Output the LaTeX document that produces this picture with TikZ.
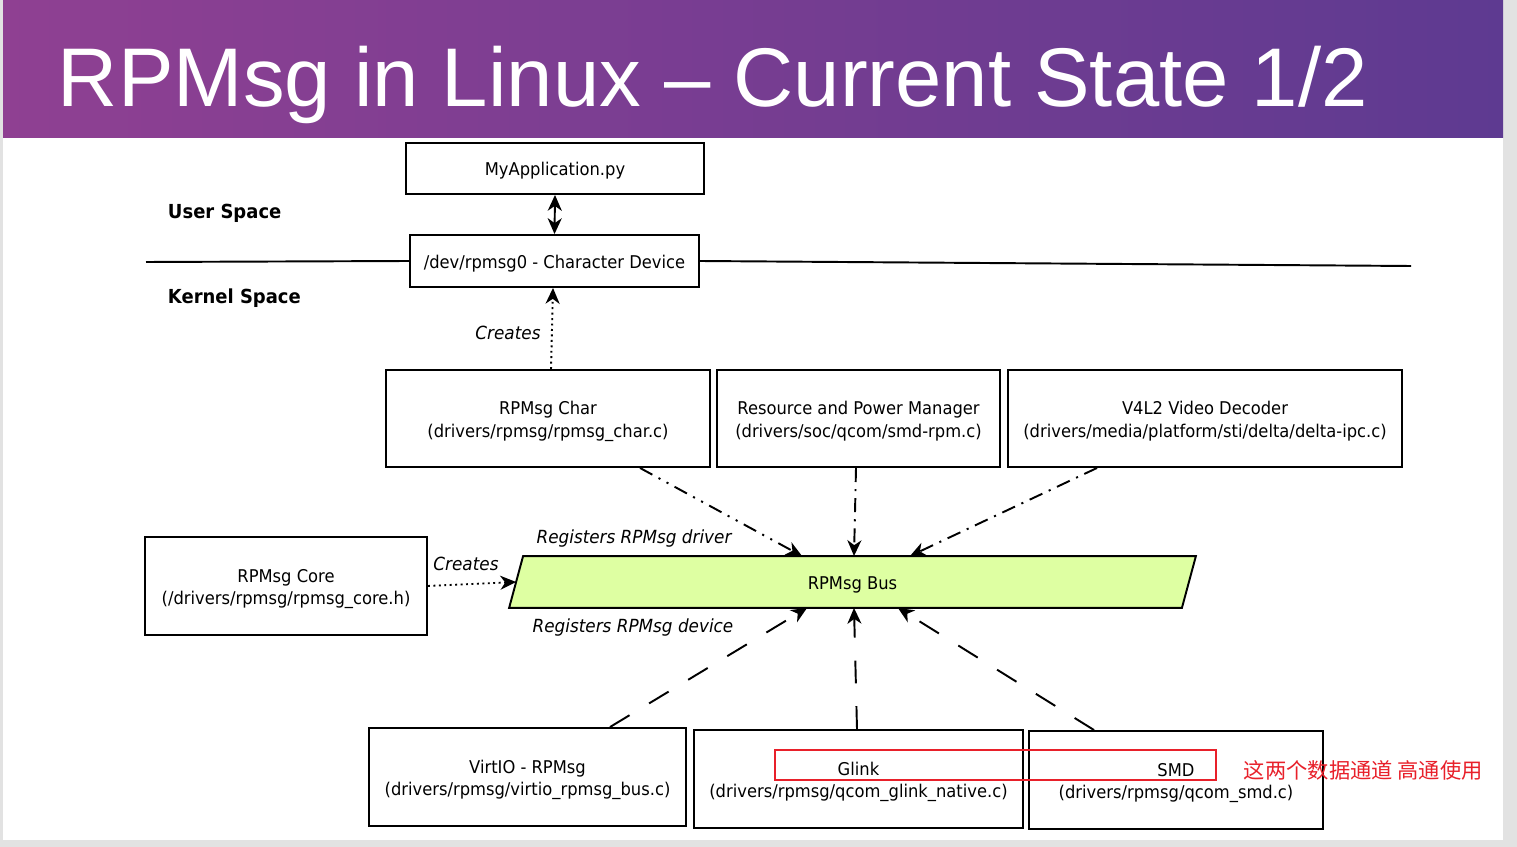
\documentclass[tikz,border=0pt]{standalone}
\usepackage{fontspec}
\setmainfont{DejaVu Sans}[FakeStretch=0.93]
\newfontfamily\titlefont{Liberation Sans}
\newfontfamily\cjk{Noto Sans CJK SC}
\usetikzlibrary{arrows.meta}

\definecolor{titleleft}{HTML}{8F4092}
\definecolor{titleright}{HTML}{5E3A91}
\definecolor{busfill}{HTML}{DEFFA2}
\definecolor{notered}{HTML}{E8202A}
\definecolor{pageshadow}{HTML}{E2E2E2}

\tikzset{
  box/.style={draw, line width=1.1pt, align=center, inner sep=0pt,
    font=\fontsize{10}{13}\selectfont},
  oneline/.style={execute at begin node={\rule{0pt}{10.6pt}}},
  twoline/.style={text height=21.6pt, text depth=0pt},
  tip/.style={-{Stealth[length=9pt,width=8pt,inset=2.8pt]}},
  bothtips/.style={{Stealth[length=9pt,width=8pt,inset=2.8pt]}-{Stealth[length=9pt,width=8pt,inset=2.8pt]}},
  lbl/.style={font=\fontsize{10.3}{12}\selectfont\itshape, inner sep=0pt},
  spacelbl/.style={anchor=west, inner sep=0pt, font=\fontsize{11}{13}\selectfont\bfseries},
  dashdot/.style={dash pattern=on 8pt off 4pt on 1.2pt off 4pt},
  dashdotdot/.style={dash pattern=on 8pt off 4pt on 1.2pt off 4pt on 1.2pt off 4pt},
  longdash/.style={dash pattern=on 13pt off 13pt},
}

\begin{document}
\begin{tikzpicture}[x=0.02cm, y=-0.02cm, line width=1.1pt]
  \useasboundingbox (0,0) rectangle (1517,847);
  % Slide and title bar
  \fill[pageshadow] (0,0) rectangle (1517,847);
  \fill[white] (3,0) rectangle (1503,840);
  \shade[left color=titleleft, right color=titleright] (3,0) rectangle (1503,138);
  \node[anchor=base west, inner sep=0pt, text=white, font=\titlefont\fontsize{47.4}{50}\selectfont]
    (title) at (57,107) {RPMsg in Linux – Current State 1/2};

  % Nodes
  \node[box, oneline, minimum width=5.96cm, minimum height=1.02cm] (app) at (555,168.5) {MyApplication.py};
  \node[box, oneline, minimum width=5.78cm, minimum height=1.04cm] (chardev) at (554.5,261) {/dev/rpmsg0 - Character Device};

  \node[box, twoline, minimum width=6.48cm, minimum height=1.94cm] (rpchar) at (548,418.5)
    {RPMsg Char\\(drivers/rpmsg/rpmsg\_char.c)};
  \node[box, twoline, minimum width=5.66cm, minimum height=1.94cm] (rpm) at (858.5,418.5)
    {Resource and Power Manager\\(drivers/soc/qcom/smd-rpm.c)};
  \node[box, twoline, minimum width=7.88cm, minimum height=1.94cm] (v4l2) at (1205,418.5)
    {V4L2 Video Decoder\\(drivers/media/platform/sti/delta/delta-ipc.c)};

  \node[box, twoline, minimum width=5.64cm, minimum height=1.96cm] (core) at (286,586)
    {RPMsg Core\\(/drivers/rpmsg/rpmsg\_core.h)};

  % bus: parallelogram round an empty frame node
  \node[inner sep=0pt, minimum width=13.42cm, minimum height=1cm] (bus) at (852.5,582) {};
  \draw[fill=busfill] ([xshift=0.14cm]bus.north west) -- ([xshift=0.14cm]bus.north east)
    -- ([xshift=-0.14cm]bus.south east) -- ([xshift=-0.14cm]bus.south west) -- cycle;
  \node[font=\fontsize{10}{13}\selectfont] (buslabel) at ([yshift=-0.06cm]bus) {RPMsg Bus};

  \node[box, twoline, minimum width=6.34cm, minimum height=1.96cm] (virtio) at (527.5,777)
    {VirtIO - RPMsg\\(drivers/rpmsg/virtio\_rpmsg\_bus.c)};
  \node[box, twoline, minimum width=6.58cm, minimum height=1.96cm] (glink) at (858.5,779)
    {Glink\\(drivers/rpmsg/qcom\_glink\_native.c)};
  \node[box, twoline, minimum width=5.88cm, minimum height=1.96cm] (smd) at (1176,780)
    {SMD\\(drivers/rpmsg/qcom\_smd.c)};

  % Space labels and the split line
  \node[spacelbl] (user) at (167,213) {User Space};
  \node[spacelbl] (kernel) at (167,298) {Kernel Space};
  \coordinate (splitl) at (146,262);
  \coordinate (splitr) at (1411,266);
  \draw (splitl) -- (chardev.west);
  \draw (chardev.east) -- (splitr);

  % Edges
  \draw[bothtips] (app.south) -- (chardev.north);
  \draw[tip, dotted] ([xshift=0.06cm]rpchar.north) -- ([xshift=-0.03cm]chardev.south);
  \draw[tip, dotted] (core.east) -- (bus.west);

  \draw[tip, dashdotdot] ([xshift=1.84cm]rpchar.south) -- ([xshift=-1.01cm]bus.north);
  \draw[tip, dashdot] ([xshift=-0.05cm]rpm.south) -- ([xshift=0.03cm]bus.north);
  \draw[tip, dashdot] ([xshift=-2.16cm]v4l2.south) -- ([xshift=1.15cm]bus.north);

  \foreach \src/\sx/\ex in {virtio/1.65/-0.91, glink/-0.03/0.03, smd/-1.64/0.91}
    \draw[tip, longdash] ([xshift=\sx cm]\src.north) -- ([xshift=\ex cm]bus.south);

  % Edge labels
  \node[lbl] (lcreate1) at (508,333) {Creates};
  \node[lbl] (lcreate2) at (466,564) {Creates};
  \node[lbl] (ldriver) at (634,539) {Registers RPMsg driver};
  \node[lbl] (ldevice) at (633,628) {Registers RPMsg device};

  % Highlight note
  \draw[notered, line width=1.2pt] (775,750) rectangle (1216,780);
  \node[anchor=west, inner sep=0pt, text=notered, font=\cjk\fontsize{12.1}{14}\selectfont]
    (note) at (1243,770) {这两个数据通道 高通使用};
\end{tikzpicture}
\end{document}
